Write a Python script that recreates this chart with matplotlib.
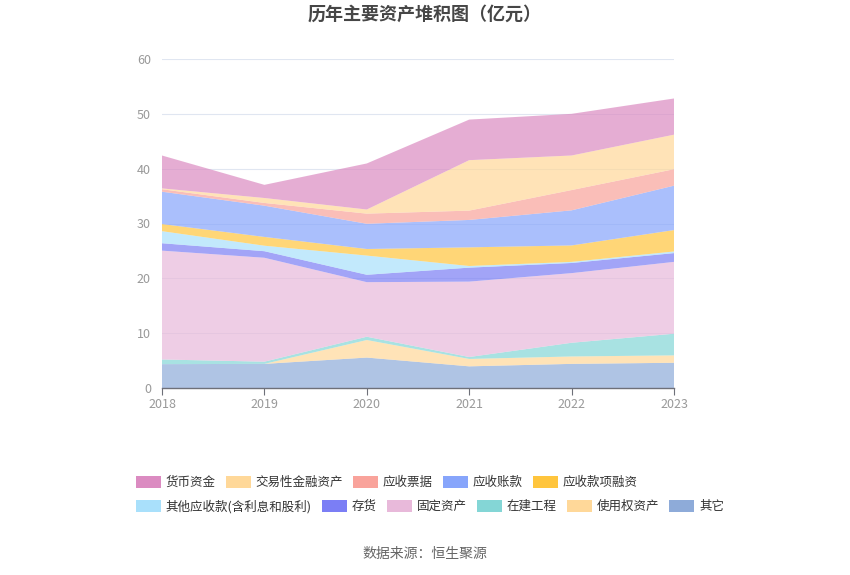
import matplotlib
matplotlib.use("Agg")
import matplotlib.pyplot as plt
from matplotlib.patches import Patch
import numpy as np

plt.rcParams['font.family'] = ['Noto Sans CJK SC', 'DejaVu Sans']

years = [2018, 2019, 2020, 2021, 2022, 2023]

# series in legend order (top of stack first)
names = ['货币资金', '交易性金融资产', '应收票据', '应收账款', '应收款项融资',
         '其他应收款(含利息和股利)', '存货', '固定资产', '在建工程', '使用权资产', '其它']

cash          = [6.0, 2.4, 8.4, 7.4, 7.6, 6.6]
trading_fin   = [0.15, 0.9, 0.75, 9.2, 6.3, 6.3]
notes_recv    = [0.45, 0.5, 1.85, 1.7, 3.7, 3.0]
accounts_recv = [5.9, 5.7, 4.6, 5.0, 6.4, 8.1]
recv_fin      = [1.3, 1.6, 1.2, 3.4, 3.0, 3.9]
other_recv    = [2.2, 1.0, 3.5, 0.3, 0.2, 0.3]
inventory     = [1.35, 1.2, 1.35, 2.55, 1.85, 1.6]
fixed_assets  = [19.85, 18.95, 9.95, 13.75, 12.7, 13.1]
constr        = [0.85, 0.4, 0.6, 0.35, 2.5, 3.95]
rou_assets    = [0.0, 0.0, 3.2, 1.35, 1.35, 1.35]
others        = [4.35, 4.4, 5.55, 3.95, 4.4, 4.6]

series = [cash, trading_fin, notes_recv, accounts_recv, recv_fin, other_recv,
          inventory, fixed_assets, constr, rou_assets, others]

colors = ['#db8bc1', '#ffd899', '#f9a39b', '#87a5fb', '#ffc53d', '#a9e0fb',
          '#7b7ef5', '#e8b9da', '#84d6d6', '#ffd899', '#8eabd9']

fig = plt.figure(figsize=(8.5, 5.75), dpi=100)
ax = fig.add_axes([162/850, 1-388/575, (674-162)/850, (388-59)/575])

# stack from bottom (reverse legend order)
ax.stackplot(years, *series[::-1], colors=colors[::-1], alpha=0.7, linewidth=0)

ax.set_xlim(2018, 2023)
ax.set_ylim(0, 60)
ax.set_yticks(range(0, 61, 10))
ax.set_xticks(years)
ax.set_xticklabels([str(y) for y in years])
ax.grid(axis='y', color='#e0e6f1', linewidth=0.8)
ax.set_axisbelow(True)
for s in ['left', 'right', 'top']:
    ax.spines[s].set_visible(False)
ax.spines['bottom'].set_color('#6e7079')
ax.spines['bottom'].set_linewidth(1)
ax.tick_params(axis='y', length=0, labelsize=9, labelcolor='#999999', pad=8)
ax.tick_params(axis='x', length=5, color='#6e7079', labelsize=9, labelcolor='#999999', pad=2)

fig.text(0.5, 1-14/575, '历年主要资产堆积图（亿元）', ha='center', va='center',
         fontsize=13, fontweight='bold', color='#464646')
fig.text(0.5, 1-554/575, '数据来源：恒生聚源', ha='center', va='center',
         fontsize=10, color='#666666')

handles = [Patch(facecolor=c, edgecolor='none') for c in colors]
row1 = list(range(5))
row2 = list(range(5, 11))
for row, ytop in [(row1, 473), (row2, 497)]:
    fig.legend([handles[i] for i in row], [names[i] for i in row],
               loc='upper left', bbox_to_anchor=(133/850, 1-ytop/575),
               ncol=len(row), frameon=False, fontsize=9,
               handlelength=2.0, handleheight=1.1, handletextpad=0.4,
               columnspacing=0.8, borderaxespad=0, borderpad=0.2,
               labelcolor='#333333')

fig.savefig('out.png', dpi=100)
